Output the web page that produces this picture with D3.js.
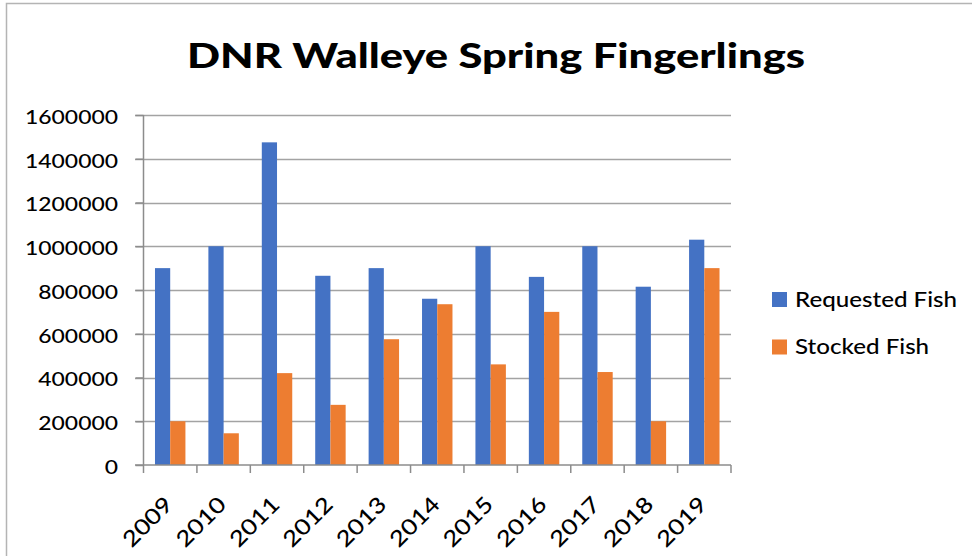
<!DOCTYPE html>
<html>
<head>
<meta charset="utf-8">
<script src="https://cdn.jsdelivr.net/npm/d3@7"></script>
<style>
  body { margin: 0; background: #fff; }
  svg { display: block; font-family: Lato, "Open Sans", sans-serif; }
</style>
</head>
<body>
<svg width="972" height="556"></svg>
<script>
// data
let years = ["2009", "2010", "2011", "2012", "2013", "2014", "2015", "2016", "2017", "2018", "2019"];
let requested = [900000, 1000000, 1475000, 865000, 900000, 760000, 1000000, 860000, 1000000, 815000, 1030000];
let stocked = [200000, 145000, 420000, 275000, 575000, 735000, 460000, 700000, 425000, 200000, 900000];
let seriesNames = ["Requested Fish", "Stocked Fish"];
let seriesColors = ["#4472C4", "#ED7D31"];
let yTicks = [0, 200000, 400000, 600000, 800000, 1000000, 1200000, 1400000, 1600000];

let svg = d3.select("svg");

let plot = {left: 143.5, right: 731, top: 115, bottom: 465};

let x = d3.scaleBand()
  .domain(years)
  .range([plot.left, plot.right])
  .paddingInner(0.43)
  .paddingOuter(0.215);

let xSeries = d3.scaleBand()
  .domain(seriesNames)
  .range([0, x.bandwidth()]);

let y = d3.scaleLinear()
  .domain([0, 1600000])
  .range([plot.bottom, plot.top]);

let color = d3.scaleOrdinal().domain(seriesNames).range(seriesColors);

// chart area border (only top and left visible)
svg.append("path")
  .attr("d", "M6.5,556V3.5H972")
  .attr("fill", "none")
  .attr("stroke", "#b4b4b4")
  .attr("stroke-width", 1.5);

// title
svg.append("text")
  .attr("class", "title")
  .attr("x", 496)
  .attr("y", 68)
  .attr("text-anchor", "middle")
  .attr("font-size", 34)
  .attr("font-weight", 900)
  .attr("fill", "#000")
  .text("DNR Walleye Spring Fingerlings");

// gridlines
svg.append("g")
  .selectAll("line")
  .data(yTicks.filter(d => d > 0))
  .enter().append("line")
  .attr("x1", 135)
  .attr("x2", plot.right)
  .attr("y1", d => Math.round(y(d)) + 0.5)
  .attr("y2", d => Math.round(y(d)) + 0.5)
  .attr("stroke", "#a3a3a3")
  .attr("stroke-width", 1.5);

// bars
let rows = years.map((yr, i) => ({year: yr, values: [
  {name: seriesNames[0], value: requested[i]},
  {name: seriesNames[1], value: stocked[i]}
]}));

svg.append("g")
  .selectAll("g")
  .data(rows)
  .enter().append("g")
  .attr("transform", d => "translate(" + x(d.year) + ",0)")
  .selectAll("rect")
  .data(d => d.values)
  .enter().append("rect")
  .attr("x", d => xSeries(d.name))
  .attr("width", xSeries.bandwidth())
  .attr("y", d => y(d.value))
  .attr("height", d => y(0) - y(d.value))
  .attr("fill", d => color(d.name));

// y axis
let yAxis = d3.axisLeft(y)
  .tickValues(yTicks)
  .tickFormat(d => d)
  .tickSize(8)
  .tickPadding(17.5);

let yg = svg.append("g")
  .attr("transform", "translate(" + plot.left + ",0)")
  .call(yAxis);
yg.select(".domain").attr("stroke", "#8c8c8c").attr("stroke-width", 1.5).attr("d", "M0," + plot.top + "V" + plot.bottom);
yg.selectAll(".tick line").attr("stroke", "#8c8c8c").attr("stroke-width", 1.5);
yg.selectAll("text")
  .attr("font-family", "Lato, sans-serif")
  .attr("font-size", 19.5)
  .attr("font-weight", 500)
  .attr("dy", "0.43em")
  .attr("fill", "#000");

// x axis line and boundary ticks
let xg = svg.append("g");
xg.append("line")
  .attr("x1", 135).attr("x2", plot.right)
  .attr("y1", plot.bottom).attr("y2", plot.bottom)
  .attr("stroke", "#8c8c8c").attr("stroke-width", 1.5);
xg.selectAll(".bt")
  .data(d3.range(years.length + 1))
  .enter().append("line")
  .attr("x1", i => plot.left + i * x.step())
  .attr("x2", i => plot.left + i * x.step())
  .attr("y1", plot.bottom)
  .attr("y2", plot.bottom + 8)
  .attr("stroke", "#8c8c8c").attr("stroke-width", 1.5);

xg.selectAll(".xlab")
  .data(years)
  .enter().append("text")
  .attr("class", "xlab")
  .attr("transform", d => "translate(" + (x(d) + x.bandwidth() / 2 + 4) + ",506) rotate(-45)")
  .attr("text-anchor", "end")
  .attr("font-size", 22)
  .attr("font-weight", 500)
  .attr("fill", "#000")
  .text(d => d);

// legend
let legend = svg.append("g")
  .selectAll("g")
  .data(seriesNames)
  .enter().append("g")
  .attr("transform", (d, i) => "translate(772," + (292 + i * 47.5) + ")");
legend.append("rect")
  .attr("width", 15).attr("height", 15)
  .attr("fill", d => color(d));
legend.append("text")
  .attr("class", "leg")
  .attr("x", 23)
  .attr("y", 14.5)
  .attr("font-size", 21)
  .attr("font-weight", 500)
  .attr("fill", "#000")
  .text(d => d);

// widen text to match the reference proportions
function stretch(sel, k) {
  sel.each(function () {
    let w = this.getComputedTextLength();
    d3.select(this).attr("textLength", w * k).attr("lengthAdjust", "spacingAndGlyphs");
  });
}
let yNode = yg.selectAll("text").filter(d => d === 1600000).node();
let ky = 93 / yNode.getComputedTextLength();
stretch(yg.selectAll("text"), ky);
stretch(xg.selectAll(".xlab"), ky);
let tNode = svg.select(".title").node();
stretch(svg.select(".title"), 618 / tNode.getComputedTextLength());
let lNode = svg.selectAll(".leg").node();
stretch(svg.selectAll(".leg"), 162 / lNode.getComputedTextLength());
</script>
</body>
</html>
